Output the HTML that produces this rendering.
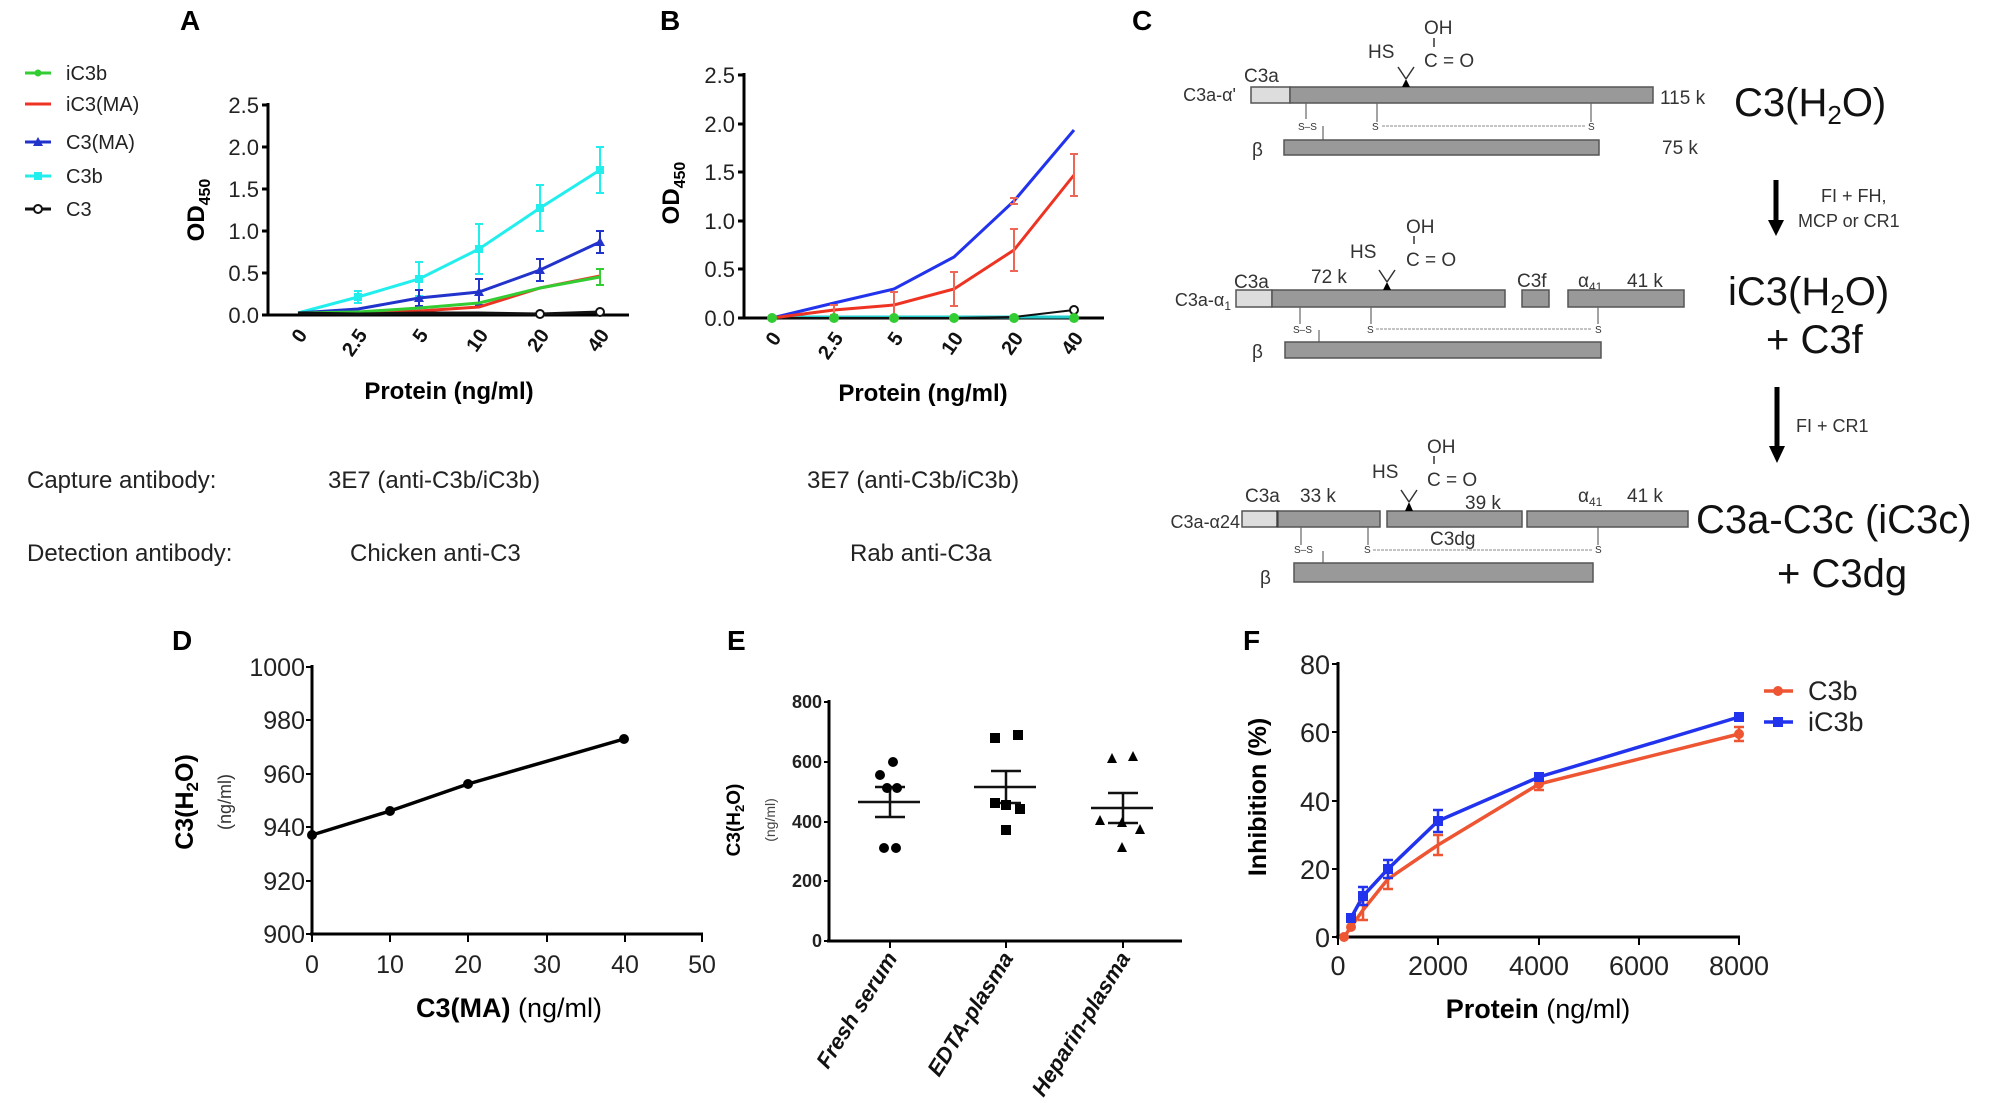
<!DOCTYPE html>
<html><head><meta charset="utf-8"><style>
html,body{margin:0;padding:0;background:#fff;}
svg{display:block;font-family:"Liberation Sans",Arial,sans-serif;}
.b{font-weight:bold}
.n{font-family:"Liberation Sans Narrow","Liberation Sans",sans-serif;}
</style></head><body>
<svg width="2008" height="1103" viewBox="0 0 2008 1103" xmlns="http://www.w3.org/2000/svg">
<g class="b" font-size="28" fill="#000">
<text x="180" y="30">A</text><text x="660" y="30">B</text><text x="1132" y="30">C</text>
<text x="172" y="650">D</text><text x="727" y="650">E</text><text x="1243" y="650">F</text>
</g>

<!-- ===== Panel A ===== -->
<g font-size="20" fill="#222">
<line x1="25" y1="73" x2="51" y2="73" stroke="#3c3" stroke-width="3"/><circle cx="38" cy="73" r="3.5" fill="#3c3"/><text x="66" y="80">iC3b</text>
<line x1="25" y1="104" x2="51" y2="104" stroke="#e32" stroke-width="3"/><text x="66" y="111">iC3(MA)</text>
<line x1="25" y1="142" x2="51" y2="142" stroke="#23c" stroke-width="3"/><polygon points="38,137 43,146 33,146" fill="#23c"/><text x="66" y="149">C3(MA)</text>
<line x1="25" y1="176" x2="51" y2="176" stroke="#2ee" stroke-width="3"/><rect x="34" y="172" width="8" height="8" fill="#2ee"/><text x="66" y="183">C3b</text>
<line x1="25" y1="209" x2="51" y2="209" stroke="#111" stroke-width="3"/><circle cx="38" cy="209" r="4" fill="#fff" stroke="#111" stroke-width="2"/><text x="66" y="216">C3</text>
</g>
<g stroke="#000" stroke-width="3">
<line x1="268" y1="103" x2="268" y2="316"/><line x1="266" y1="315" x2="629" y2="315"/>
<line x1="262" y1="105" x2="268" y2="105"/><line x1="262" y1="147" x2="268" y2="147"/><line x1="262" y1="189" x2="268" y2="189"/><line x1="262" y1="231" x2="268" y2="231"/><line x1="262" y1="273" x2="268" y2="273"/><line x1="262" y1="315" x2="268" y2="315"/>
</g>
<g font-size="22" fill="#222" text-anchor="end">
<text x="259" y="113">2.5</text><text x="259" y="155">2.0</text><text x="259" y="197">1.5</text><text x="259" y="239">1.0</text><text x="259" y="281">0.5</text><text x="259" y="323">0.0</text>
</g>
<g class="b" font-size="20" fill="#111" text-anchor="end">
<text transform="translate(308,335) rotate(-55)">0</text>
<text transform="translate(368,335) rotate(-55)">2.5</text>
<text transform="translate(429,335) rotate(-55)">5</text>
<text transform="translate(489,335) rotate(-55)">10</text>
<text transform="translate(550,335) rotate(-55)">20</text>
<text transform="translate(610,335) rotate(-55)">40</text>
</g>
<text class="b" font-size="24" text-anchor="middle" transform="translate(204,210) rotate(-90)">OD<tspan font-size="16" dy="6">450</tspan></text>
<text class="b" font-size="24" text-anchor="middle" x="449" y="399">Protein (ng/ml)</text>
<g fill="none" stroke-width="3">
<polyline stroke="#2ee" points="298,313 358,297 419,279 479,249 540,208 600,170"/>
<g stroke="#2ee" stroke-width="2"><path d="M358,291v12M354,291h8M354,303h8M419,262v34M415,262h8M415,296h8M479,224v50M475,224h8M475,274h8M540,185v46M536,185h8M536,231h8M600,147v46M596,147h8M596,193h8"/></g>
<polyline stroke="#23c" points="298,313 358,309 419,298 479,292 540,270 600,242"/>
<g stroke="#23c" stroke-width="2"><path d="M419,290v16M415,290h8M415,306h8M479,279v26M475,279h8M475,305h8M540,259v22M536,259h8M536,281h8M600,231v22M596,231h8M596,253h8"/></g>
<polyline stroke="#e32" points="298,313 358,313 419,311 479,307 540,288 600,276"/>
<polyline stroke="#3c3" points="298,313 358,312 419,308 479,303 540,288 600,277"/>
<g stroke="#3c3" stroke-width="2"><path d="M600,269v16M596,269h8M596,285h8"/></g>
<polyline stroke="#111" points="298,313 358,314 419,313 479,313 540,314 600,312"/>
</g>
<g fill="#2ee"><rect x="354" y="293" width="8" height="8"/><rect x="415" y="275" width="8" height="8"/><rect x="475" y="245" width="8" height="8"/><rect x="536" y="204" width="8" height="8"/><rect x="596" y="166" width="8" height="8"/></g>
<g fill="#23c"><polygon points="419,293 424,302 414,302"/><polygon points="479,287 484,296 474,296"/><polygon points="540,265 545,274 535,274"/><polygon points="600,237 605,246 595,246"/></g>
<g fill="#fff" stroke="#111" stroke-width="2"><circle cx="540" cy="314" r="4"/><circle cx="600" cy="312" r="4"/></g>

<!-- ===== Panel B ===== -->
<g stroke="#000" stroke-width="3">
<line x1="744" y1="73" x2="744" y2="319"/><line x1="742" y1="318" x2="1104" y2="318"/>
<line x1="738" y1="75" x2="744" y2="75"/><line x1="738" y1="124" x2="744" y2="124"/><line x1="738" y1="172" x2="744" y2="172"/><line x1="738" y1="221" x2="744" y2="221"/><line x1="738" y1="269" x2="744" y2="269"/><line x1="738" y1="318" x2="744" y2="318"/>
</g>
<g font-size="22" fill="#222" text-anchor="end">
<text x="735" y="83">2.5</text><text x="735" y="132">2.0</text><text x="735" y="180">1.5</text><text x="735" y="229">1.0</text><text x="735" y="277">0.5</text><text x="735" y="326">0.0</text>
</g>
<g class="b" font-size="20" fill="#111" text-anchor="end">
<text transform="translate(782,338) rotate(-55)">0</text>
<text transform="translate(844,338) rotate(-55)">2.5</text>
<text transform="translate(904,338) rotate(-55)">5</text>
<text transform="translate(964,338) rotate(-55)">10</text>
<text transform="translate(1024,338) rotate(-55)">20</text>
<text transform="translate(1084,338) rotate(-55)">40</text>
</g>
<text class="b" font-size="24" text-anchor="middle" transform="translate(679,193) rotate(-90)">OD<tspan font-size="16" dy="6">450</tspan></text>
<text class="b" font-size="24" text-anchor="middle" x="923" y="401">Protein (ng/ml)</text>
<g fill="none" stroke-width="3">
<polyline stroke="#2cc" points="772,317 1074,317"/>
<polyline stroke="#111" stroke-width="2" points="772,318 834,318 894,318 954,318 1014,317 1074,310"/>
<polyline stroke="#23e" points="772,318 834,303 894,289 954,257 1014,201 1074,130"/>
<polyline stroke="#e32" points="772,318 834,310 894,305 954,289 1014,250 1074,175"/>
<g stroke="#e65" stroke-width="2"><path d="M834,305v10M830,305h8M830,315h8M894,292v26M890,292h8M890,318h8M954,272v34M950,272h8M950,306h8M1014,229v42M1010,229h8M1010,271h8M1074,154v42M1070,154h8M1070,196h8M1014,198v6M1010,198h8M1010,204h8"/></g>
</g>
<circle cx="1074" cy="310" r="4" fill="#fff" stroke="#111" stroke-width="2"/>
<g fill="#3c3"><circle cx="772" cy="318" r="5"/><circle cx="834" cy="318" r="5"/><circle cx="894" cy="318" r="5"/><circle cx="954" cy="318" r="5"/><circle cx="1014" cy="318" r="5"/><circle cx="1074" cy="318" r="5"/></g>

<g font-size="24" fill="#222">
<text x="27" y="488">Capture antibody:</text>
<text x="328" y="488">3E7 (anti-C3b/iC3b)</text>
<text x="807" y="488">3E7 (anti-C3b/iC3b)</text>
<text x="27" y="561">Detection antibody:</text>
<text x="350" y="561">Chicken anti-C3</text>
<text x="850" y="561">Rab anti-C3a</text>
</g>

<!-- ===== Panel C ===== -->
<g font-size="19" fill="#333">
<text x="1236" y="101" text-anchor="end" font-size="18">C3a-α'</text>
<text x="1244" y="82">C3a</text>
<rect x="1251" y="87" width="39" height="16" fill="#ddd" stroke="#555" stroke-width="1.5"/>
<rect x="1290" y="87" width="363" height="16" fill="#999" stroke="#555" stroke-width="1.5"/>
<polygon points="1406,79 1410,87 1402,87" fill="#000"/>
<path d="M1406,79 L1398,67 M1406,79 L1414,67 M1434,47 V38" stroke="#333" stroke-width="1.5" fill="none"/>
<text x="1368" y="58">HS</text><text x="1424" y="34">OH</text><text x="1424" y="67">C = O</text>
<path d="M1306,103V119 M1377,103V122 M1591,103V122 M1323,126V140" stroke="#666" stroke-width="1.2"/>
<text x="1298" y="130" font-size="10">S–S</text><text x="1372" y="130" font-size="10">S</text><text x="1588" y="130" font-size="10">S</text>
<line x1="1382" y1="126" x2="1586" y2="126" stroke="#888" stroke-width="1" stroke-dasharray="3,1"/>
<rect x="1284" y="140" width="315" height="15" fill="#999" stroke="#555" stroke-width="1.5"/>
<text x="1252" y="156">β</text>
<text x="1660" y="104">115 k</text><text x="1662" y="154">75 k</text>
<line x1="1776" y1="180" x2="1776" y2="222" stroke="#000" stroke-width="5"/>
<polygon points="1768,220 1784,220 1776,236" fill="#000"/>
<text x="1821" y="202" font-size="18">FI + FH,</text><text x="1798" y="227" font-size="18">MCP or CR1</text>
<text x="1231" y="306" text-anchor="end" font-size="18">C3a-α<tspan font-size="12" dy="4">1</tspan></text>
<text x="1234" y="288">C3a</text><text x="1311" y="283">72 k</text><text x="1517" y="287">C3f</text>
<text x="1578" y="287">α<tspan font-size="12" dy="4">41</tspan></text><text x="1627" y="287">41 k</text>
<rect x="1236" y="290" width="36" height="17" fill="#ddd" stroke="#555" stroke-width="1.5"/>
<rect x="1272" y="290" width="233" height="17" fill="#999" stroke="#555" stroke-width="1.5"/>
<rect x="1522" y="290" width="27" height="17" fill="#999" stroke="#555" stroke-width="1.5"/>
<rect x="1568" y="290" width="116" height="17" fill="#999" stroke="#555" stroke-width="1.5"/>
<polygon points="1387,282 1391,290 1383,290" fill="#000"/>
<path d="M1387,282 L1379,270 M1387,282 L1395,270 M1414,244 V236" stroke="#333" stroke-width="1.5" fill="none"/>
<text x="1350" y="258">HS</text><text x="1406" y="233">OH</text><text x="1406" y="266">C = O</text>
<path d="M1300,307V324 M1371,307V324 M1598,307V324 M1319,330V342" stroke="#666" stroke-width="1.2"/>
<text x="1293" y="333" font-size="10">S–S</text><text x="1367" y="333" font-size="10">S</text><text x="1595" y="333" font-size="10">S</text>
<line x1="1376" y1="329" x2="1592" y2="329" stroke="#888" stroke-width="1" stroke-dasharray="3,1"/>
<rect x="1285" y="342" width="316" height="16" fill="#999" stroke="#555" stroke-width="1.5"/>
<text x="1252" y="358">β</text>
<line x1="1777" y1="387" x2="1777" y2="448" stroke="#000" stroke-width="5"/>
<polygon points="1769,446 1785,446 1777,463" fill="#000"/>
<text x="1796" y="432" font-size="18">FI + CR1</text>
<text x="1240" y="528" text-anchor="end" font-size="18">C3a-α24</text>
<text x="1245" y="502">C3a</text><text x="1300" y="502">33 k</text><text x="1465" y="509">39 k</text>
<text x="1578" y="502">α<tspan font-size="12" dy="4">41</tspan></text><text x="1627" y="502">41 k</text>
<rect x="1242" y="511" width="36" height="16" fill="#ddd" stroke="#555" stroke-width="1.5"/>
<line x1="1278" y1="511" x2="1278" y2="527" stroke="#000" stroke-width="3"/>
<rect x="1278" y="511" width="102" height="16" fill="#999" stroke="#555" stroke-width="1.5"/>
<rect x="1387" y="511" width="135" height="16" fill="#999" stroke="#555" stroke-width="1.5"/>
<rect x="1527" y="511" width="161" height="16" fill="#999" stroke="#555" stroke-width="1.5"/>
<polygon points="1409,502 1413,511 1405,511" fill="#000"/>
<path d="M1409,502 L1401,490 M1409,502 L1417,490 M1434,464 V456" stroke="#333" stroke-width="1.5" fill="none"/>
<text x="1372" y="478">HS</text><text x="1427" y="453">OH</text><text x="1427" y="486">C = O</text>
<text x="1430" y="545">C3dg</text>
<path d="M1301,527V545 M1368,527V545 M1598,527V545 M1323,551V563" stroke="#666" stroke-width="1.2"/>
<text x="1294" y="553" font-size="10">S–S</text><text x="1364" y="553" font-size="10">S</text><text x="1595" y="553" font-size="10">S</text>
<line x1="1373" y1="550" x2="1592" y2="550" stroke="#888" stroke-width="1" stroke-dasharray="3,1"/>
<rect x="1294" y="563" width="299" height="19" fill="#999" stroke="#555" stroke-width="1.5"/>
<text x="1260" y="584">β</text>
</g>
<g font-size="40" fill="#111">
<text x="1734" y="116">C3(H<tspan font-size="26" dy="8">2</tspan><tspan dy="-8">O)</tspan></text>
<text x="1728" y="305">iC3(H<tspan font-size="26" dy="8">2</tspan><tspan dy="-8">O)</tspan></text>
<text x="1766" y="353">+ C3f</text>
<text x="1696" y="533">C3a-C3c (iC3c)</text>
<text x="1777" y="587">+ C3dg</text>
</g>

<!-- ===== Panel D ===== -->
<g stroke="#000" stroke-width="3">
<line x1="312" y1="665" x2="312" y2="935"/><line x1="310" y1="934" x2="703" y2="934"/>
<g stroke-width="2"><path d="M306,667h6M306,720h6M306,774h6M306,827h6M306,881h6M306,934h6 M312,934v8M390,934v8M468,934v8M547,934v8M625,934v8M702,934v8"/></g>
</g>
<g class="n" font-size="25" fill="#222" text-anchor="end">
<text x="305" y="676">1000</text><text x="305" y="729">980</text><text x="305" y="783">960</text><text x="305" y="836">940</text><text x="305" y="890">920</text><text x="305" y="943">900</text>
</g>
<g class="n" font-size="25" fill="#222" text-anchor="middle">
<text x="312" y="973">0</text><text x="390" y="973">10</text><text x="468" y="973">20</text><text x="547" y="973">30</text><text x="625" y="973">40</text><text x="702" y="973">50</text>
</g>
<polyline points="312,835 390,811 468,784 624,739" fill="none" stroke="#000" stroke-width="3.5"/>
<g fill="#000"><circle cx="312" cy="835" r="5"/><circle cx="390" cy="811" r="5"/><circle cx="468" cy="784" r="5"/><circle cx="624" cy="739" r="5"/></g>
<text class="b" font-size="25" text-anchor="middle" transform="translate(193,802) rotate(-90)">C3(H<tspan font-size="17" dy="5">2</tspan><tspan dy="-5">O)</tspan></text>
<text font-size="18" fill="#333" text-anchor="middle" transform="translate(231,802) rotate(-90)">(ng/ml)</text>
<text x="509" y="1017" text-anchor="middle" font-size="27" class="n"><tspan font-weight="bold">C3(MA)</tspan> (ng/ml)</text>

<!-- ===== Panel E ===== -->
<g stroke="#000" stroke-width="3">
<line x1="829" y1="700" x2="829" y2="942"/><line x1="827" y1="941" x2="1182" y2="941"/>
<g stroke-width="2"><path d="M824,702h5M824,762h5M824,822h5M824,881h5M824,941h5 M890,941v7M1006,941v7M1123,941v7"/></g>
</g>
<g class="b n" font-size="18" fill="#222" text-anchor="end">
<text x="822" y="708">800</text><text x="822" y="768">600</text><text x="822" y="828">400</text><text x="822" y="887">200</text><text x="822" y="947">0</text>
</g>
<text class="b" font-size="19" text-anchor="middle" transform="translate(740,820) rotate(-90)">C3(H<tspan font-size="13" dy="4">2</tspan><tspan dy="-4">O)</tspan></text>
<text font-size="14" fill="#444" text-anchor="middle" transform="translate(775,820) rotate(-90)">(ng/ml)</text>
<g class="b" font-size="22" font-style="italic" fill="#111" text-anchor="end">
<text transform="translate(898,958) rotate(-58)">Fresh serum</text>
<text transform="translate(1014,958) rotate(-58)">EDTA-plasma</text>
<text transform="translate(1131,958) rotate(-58)">Heparin-plasma</text>
</g>
<g stroke="#111" stroke-width="2.5" fill="none">
<path d="M858,802h62M875,787h30M875,817h30M890,787v30"/>
<path d="M974,787h62M991,771h30M991,803h30M1006,771v32"/>
<path d="M1091,808h62M1108,793h30M1108,823h30M1123,793v30"/>
</g>
<g fill="#000">
<circle cx="893" cy="762" r="5"/><circle cx="880" cy="775" r="5"/><circle cx="887" cy="788" r="5"/><circle cx="897" cy="788" r="5"/><circle cx="884" cy="848" r="5"/><circle cx="896" cy="848" r="5"/>
<rect x="990" y="733" width="10" height="10"/><rect x="1013" y="730" width="10" height="10"/><rect x="990" y="798" width="10" height="10"/><rect x="1001" y="800" width="10" height="10"/><rect x="1015" y="804" width="10" height="10"/><rect x="1001" y="825" width="10" height="10"/>
<polygon points="1112,753 1117,763 1107,763"/><polygon points="1133,751 1138,761 1128,761"/><polygon points="1100,815 1105,825 1095,825"/><polygon points="1122,817 1127,827 1117,827"/><polygon points="1140,824 1145,834 1135,834"/><polygon points="1122,842 1127,852 1117,852"/>
</g>

<!-- ===== Panel F ===== -->
<g stroke="#000" stroke-width="3">
<line x1="1338" y1="662" x2="1338" y2="938"/><line x1="1336" y1="937" x2="1740" y2="937"/>
<g stroke-width="2"><path d="M1332,664h6M1332,732h6M1332,801h6M1332,869h6M1332,937h6 M1338,937v8M1438,937v8M1539,937v8M1639,937v8M1739,937v8"/></g>
</g>
<g class="n" font-size="27" fill="#222" text-anchor="end">
<text x="1330" y="674">80</text><text x="1330" y="742">60</text><text x="1330" y="811">40</text><text x="1330" y="879">20</text><text x="1330" y="947">0</text>
</g>
<g class="n" font-size="27" fill="#222" text-anchor="middle">
<text x="1338" y="975">0</text><text x="1438" y="975">2000</text><text x="1539" y="975">4000</text><text x="1639" y="975">6000</text><text x="1739" y="975">8000</text>
</g>
<text class="b" font-size="25" text-anchor="middle" transform="translate(1266,797) rotate(-90)">Inhibition (%)</text>
<text x="1538" y="1018" text-anchor="middle" font-size="27" class="n"><tspan font-weight="bold">Protein</tspan> (ng/ml)</text>
<g fill="none" stroke-width="3.5">
<polyline stroke="#e53" points="1344,937 1351,927 1363,910 1388,879 1438,845 1539,784 1739,734"/>
<polyline stroke="#23e" points="1351,918 1363,896 1388,869 1438,821 1539,777 1739,717"/>
<g stroke="#e53" stroke-width="2.5"><path d="M1363,900v20M1358,900h10M1358,920h10M1388,869v20M1383,869h10M1383,889h10M1438,835v20M1433,835h10M1433,855h10M1539,778v12M1534,778h10M1534,790h10M1739,727v14M1734,727h10M1734,741h10"/></g>
<g stroke="#23e" stroke-width="2.5"><path d="M1363,887v18M1358,887h10M1358,905h10M1388,860v18M1383,860h10M1383,878h10M1438,810v22M1433,810h10M1433,832h10"/></g>
</g>
<g fill="#e53"><circle cx="1344" cy="937" r="5"/><circle cx="1351" cy="927" r="5"/><circle cx="1539" cy="784" r="5"/><circle cx="1739" cy="734" r="5"/></g>
<g fill="#23e"><rect x="1346" y="913" width="10" height="10"/><rect x="1358" y="891" width="10" height="10"/><rect x="1383" y="864" width="10" height="10"/><rect x="1433" y="816" width="10" height="10"/><rect x="1534" y="772" width="10" height="10"/><rect x="1734" y="712" width="10" height="10"/></g>
<line x1="1764" y1="691" x2="1793" y2="691" stroke="#e53" stroke-width="3.5"/><circle cx="1778" cy="691" r="5" fill="#e53"/>
<line x1="1764" y1="722" x2="1793" y2="722" stroke="#23e" stroke-width="3.5"/><rect x="1773" y="717" width="10" height="10" fill="#23e"/>
<g class="n" font-size="27" fill="#222"><text x="1808" y="700">C3b</text><text x="1808" y="731">iC3b</text></g>
</svg>
</body></html>
